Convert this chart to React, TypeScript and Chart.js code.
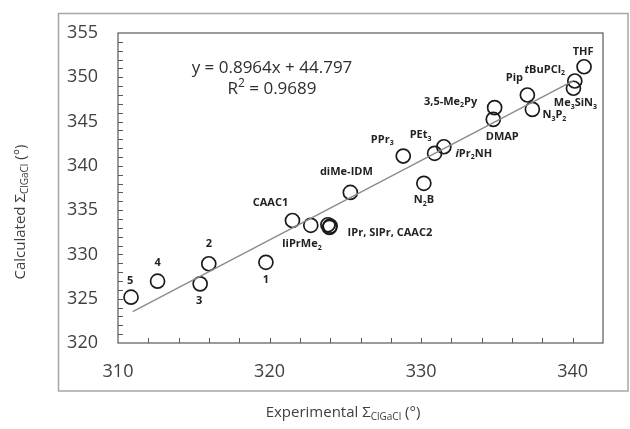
import React, { useEffect, useRef } from "react";
import { Chart, registerables } from "chart.js";
Chart.register(...registerables);

// ---- data ----
const expX = [310.86, 312.61, 315.42, 315.99, 319.76, 321.51, 322.72, 323.85, 324.0, 323.95, 325.33, 328.82, 330.18, 330.89, 331.5, 334.85, 334.76, 337.01, 337.34, 340.14, 340.05, 340.75];
const calcY = [325.17, 326.98, 326.68, 328.95, 329.11, 333.83, 333.29, 333.35, 333.2, 333.05, 337.0, 341.11, 338.03, 341.42, 342.16, 346.57, 345.25, 348.0, 346.38, 349.58, 348.76, 351.19];
const pointLabels = ["5", "4", "3", "2", "1", "CAAC1", "IiPrMe_2", "IPr, SIPr, CAAC2", "", "", "diMe-IDM", "PPr_3", "N_2B", "PEt_3", "~iPr_2NH", "3,5-Me_2Py", "DMAP", "Pip", "N_3P_2", "~tBuPCl_2", "Me_3SiN_3", "THF"];
const trendSlope = 0.8964;
const trendIntercept = 44.797;
const trendRange = [310.97, 340.0];
const equationText = "y = 0.8964x + 44.797";
const r2Text = "R^2 = 0.9689";
const xTitle = "Experimental Σ_{ClGaCl} (°)";
const yTitle = "Calculated Σ_{ClGaCl} (°)";

// ---- layout (label offsets in px relative to their point) ----
const labelOffsets = [[-1, -16], [0, -18], [-1, 17], [0, -20], [0, 18], [-22, -18], [-9, 19], [62, 8], [0, 0], [0, 0], [-4, -21], [-21, -16], [0, 17], [-14, -18], [30, 7], [-44, -6], [9, 18], [-13, -17], [22, 6], [-30, -11], [2, 15], [-1, -15]];

const FAMILY = "'Open Sans', 'Noto Sans', sans-serif";

type Seg = { t: string; sub: boolean; sup: boolean; it: boolean };
function parse(s: string): Seg[] {
  const out: Seg[] = [];
  let i = 0;
  while (i < s.length) {
    const c = s[i];
    if (c === "_" || c === "~" || c === "^") {
      let txt: string;
      if (s[i + 1] === "{") {
        const j = s.indexOf("}", i + 2);
        txt = s.slice(i + 2, j);
        i = j + 1;
      } else {
        txt = s[i + 1];
        i += 2;
      }
      out.push({ t: txt, sub: c === "_", sup: c === "^", it: c === "~" });
    } else {
      let j = i;
      while (j < s.length && s[j] !== "_" && s[j] !== "~" && s[j] !== "^") j++;
      out.push({ t: s.slice(i, j), sub: false, sup: false, it: false });
      i = j;
    }
  }
  return out;
}

function drawRich(ctx: CanvasRenderingContext2D, s: string, x: number, y: number, size: number, weight: string, color: string, align: string = "center") {
  const segs = parse(s);
  const fontFor = (g: Seg) => `${g.it ? "italic " : ""}${weight} ${g.sub || g.sup ? Math.round(size * 0.68) : size}px ${FAMILY}`;
  let w = 0;
  for (const g of segs) {
    ctx.font = fontFor(g);
    w += ctx.measureText(g.t).width;
  }
  let cx = align === "center" ? x - w / 2 : align === "left" ? x : x - w;
  ctx.textBaseline = "middle";
  ctx.textAlign = "left";
  ctx.fillStyle = color;
  for (const g of segs) {
    ctx.font = fontFor(g);
    const dy = g.sub ? size * 0.3 : g.sup ? -size * 0.3 : 0;
    ctx.fillText(g.t, cx, y + dy);
    cx += ctx.measureText(g.t).width;
  }
}

const decorPlugin = {
  id: "decor",
  beforeDraw(chart: any) {
    const ctx = chart.ctx as CanvasRenderingContext2D;
    ctx.save();
    ctx.fillStyle = "#ffffff";
    ctx.fillRect(0, 0, chart.width, chart.height);
    ctx.strokeStyle = "#a6a6a6";
    ctx.lineWidth = 1.5;
    ctx.strokeRect(58.5, 13.5, 569.5, 377.5);
    ctx.restore();
  },
  afterDraw(chart: any) {
    const ctx = chart.ctx as CanvasRenderingContext2D;
    const { left, right, top, bottom } = chart.chartArea;
    const xs = chart.scales.x;
    const ys = chart.scales.y;
    ctx.save();
    // plot frame
    ctx.strokeStyle = "#595959";
    ctx.lineWidth = 1.2;
    ctx.strokeRect(left, top, right - left, bottom - top);
    // inside ticks
    ctx.lineWidth = 1;
    ctx.beginPath();
    for (let v = xs.min + 2; v < xs.max - 0.01; v += 2) {
      const px = Math.round(xs.getPixelForValue(v)) + 0.5;
      ctx.moveTo(px, bottom);
      ctx.lineTo(px, bottom - 5);
    }
    for (let v = ys.min + 1; v < ys.max - 0.01; v += 1) {
      const py = Math.round(ys.getPixelForValue(v)) + 0.5;
      ctx.moveTo(left, py);
      ctx.lineTo(left + 5, py);
    }
    ctx.stroke();

    // equation
    drawRich(ctx, equationText, 272, 68, 17, "normal", "#2e2e2e");
    drawRich(ctx, r2Text, 272, 89, 17, "normal", "#2e2e2e");

    // point labels
    for (let i = 0; i < pointLabels.length; i++) {
      const lab = pointLabels[i];
      if (!lab) continue;
      const px = xs.getPixelForValue(expX[i]);
      const py = ys.getPixelForValue(calcY[i]);
      const [dx, dy] = labelOffsets[i];
      drawRich(ctx, lab, px + dx, py + dy, 11, "bold", "#222222");
    }

    // axis titles
    drawRich(ctx, xTitle, 343, 413, 15, "normal", "#404040");
    ctx.save();
    ctx.translate(21, 212);
    ctx.rotate(-Math.PI / 2);
    drawRich(ctx, yTitle, 0, 0, 15, "normal", "#404040");
    ctx.restore();
    ctx.restore();
  },
};

export default function App() {
  const ref = useRef<HTMLCanvasElement | null>(null);
  useEffect(() => {
    document.body.style.margin = "0";
    const canvas = ref.current;
    if (!canvas) return;
    const points = expX.map((x, i) => ({ x, y: calcY[i] }));
    const trend = trendRange.map((x) => ({ x, y: trendSlope * x + trendIntercept }));
    const chart = new Chart(canvas, {
      type: "scatter",
      data: {
        datasets: [
          {
            type: "line",
            data: trend,
            borderColor: "#8c8c8c",
            borderWidth: 1.5,
            pointRadius: 0,
            fill: false,
          } as any,
          {
            data: points,
            pointRadius: 7,
            pointHoverRadius: 7,
            pointBorderWidth: 1.7,
            borderColor: "#1a1a1a",
            backgroundColor: "rgba(0,0,0,0)",
          },
        ],
      },
      options: {
        animation: false,
        responsive: true,
        maintainAspectRatio: false,
        layout: { padding: { top: 33, right: 27, left: 0, bottom: 0 } },
        plugins: { legend: { display: false }, tooltip: { enabled: false } },
        events: [],
        scales: {
          x: {
            type: "linear",
            min: 310,
            max: 342,
            grid: { display: false, drawTicks: false },
            border: { display: false },
            ticks: {
              stepSize: 10,
              includeBounds: false,
              padding: 18,
              color: "#404040",
              font: { size: 18, family: FAMILY },
            },
            afterFit: (s: any) => {
              s.height = 86;
            },
          },
          y: {
            type: "linear",
            min: 320,
            max: 355,
            grid: { display: false, drawTicks: false },
            border: { display: false },
            ticks: {
              stepSize: 5,
              includeBounds: false,
              padding: 20,
              color: "#404040",
              font: { size: 18, family: FAMILY },
            },
            afterFit: (s: any) => {
              s.width = 118;
            },
          },
        },
      },
      plugins: [decorPlugin],
    } as any);
    return () => chart.destroy();
  }, []);
  return (
    <div style={{ position: "absolute", left: 0, top: 0, width: 630, height: 429 }}>
      <canvas ref={ref} />
    </div>
  );
}
